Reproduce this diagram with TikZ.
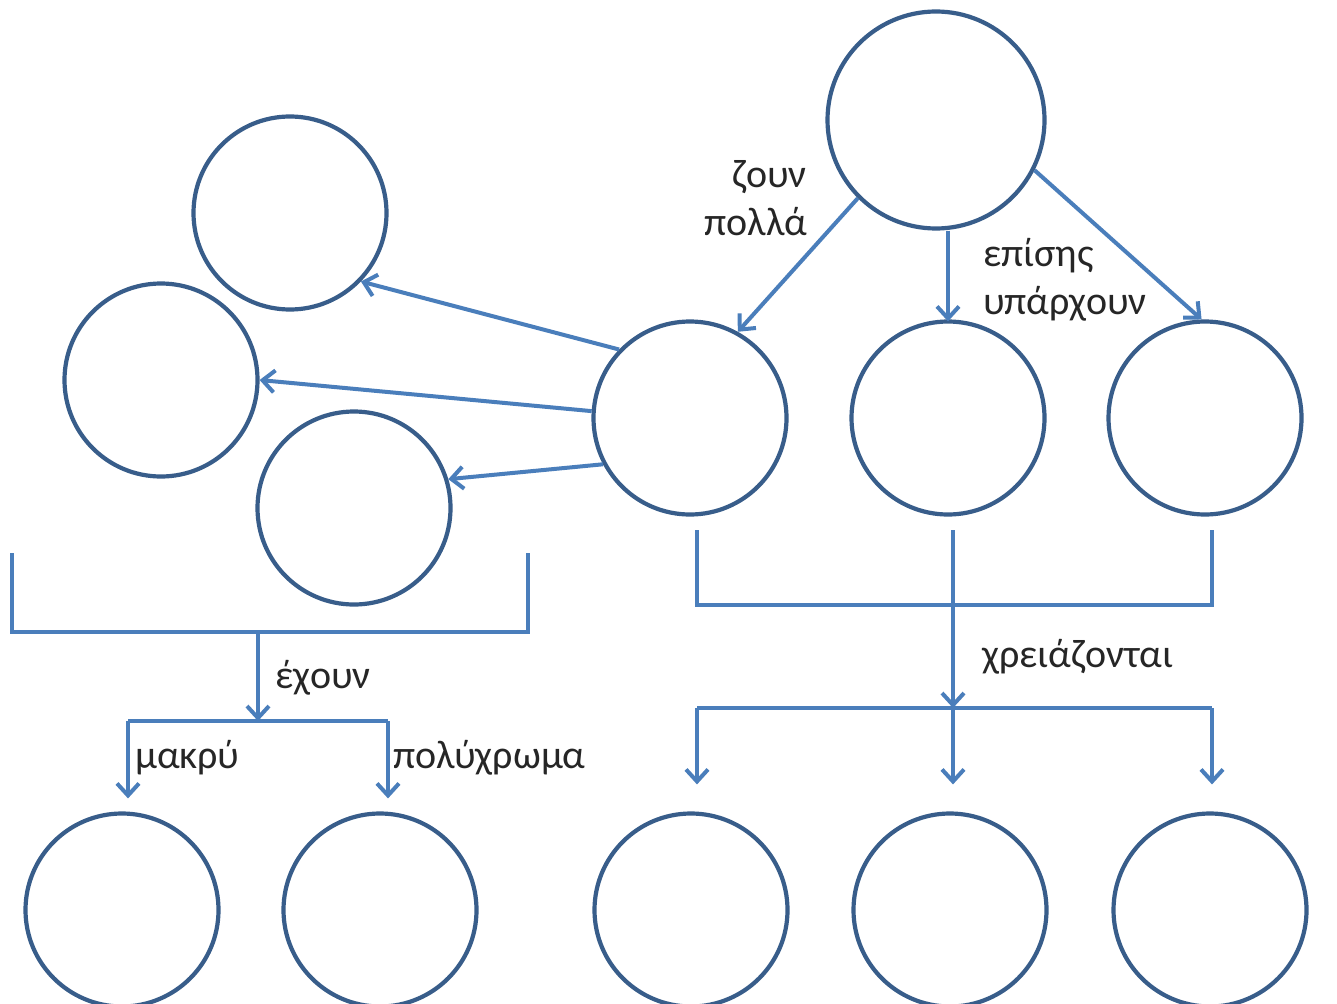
\documentclass[tikz,border=0pt]{standalone}
\usepackage{fontspec}
\setmainfont{Carlito}
\usetikzlibrary{arrows.meta,calc}
\definecolor{ring}{HTML}{385D8A}
\definecolor{conn}{HTML}{4A7EBB}
\definecolor{txt}{HTML}{262626}
\tikzset{
  ring/.style={circle, draw=ring, line width=4.2pt, minimum size=193pt, inner sep=0pt},
  bigring/.style={ring, minimum size=217pt},
  link/.style={draw=conn, line width=4pt},
  arr/.style={link, -{Straight Barb[length=12pt,width=22pt,line width=4pt]}},
  lbl/.style={font=\fontsize{40}{48}\selectfont, text=txt, inner sep=0pt}
}
\begin{document}
\begin{tikzpicture}[x=1pt,y=-1pt]
\useasboundingbox (0,0) rectangle (1337,1003);
\fill[white] (0,0) rectangle (1337,1003);
% circles
\node[bigring] (top) at (936,120) {};
\node[ring] (L1) at (290,213) {};
\node[ring] (L2) at (161,380) {};
\node[ring] (L3) at (354,508) {};
\node[ring] (M) at (690,418) {};
\node[ring] (R2) at (948,418) {};
\node[ring] (R3) at (1205,418) {};
\node[ring] (B1) at (122,910) {};
\node[ring] (B2) at (380,910) {};
\node[ring] (B3) at (691,910) {};
\node[ring] (B4) at (950,910) {};
\node[ring] (B5) at (1210,910) {};
% arrows from top
\draw[arr] (top.225) -- (M.61);
\draw[arr] (R2.north |- top.south) -- ($(R2.north)+(0,2)$);
\draw[arr] (top.-27) -- (R3.92);
% arrows from M to left circles
\draw[arr] (M.136) -- (L1.-44);
\draw[arr] (M.176) -- (L2.0);
\draw[arr] (M.208) -- (L3.17);
% left bracket
\coordinate (la) at (12,553);
\coordinate (lb) at (12,632);
\coordinate (lc) at (528,632);
\coordinate (ld) at (528,553);
\coordinate (lj) at (258,632);
\coordinate (lk) at (258,721);
\coordinate (ll) at (128,721);
\coordinate (lr) at (388,721);
\draw[link] (la) -- (lb) -- (lc) -- (ld);
\draw[arr] (lj) -- (lk);
\draw[link] (ll) -- (lr);
\draw[arr] (ll) -- ($(ll |- B1.north)+(0,-13)$);
\draw[arr] (lr) -- ($(lr |- B2.north)+(0,-13)$);
% right bracket
\coordinate (ra) at (697,530);
\coordinate (rb) at (697,605);
\coordinate (rc) at (1212,605);
\coordinate (rd) at (1212,530);
\coordinate (re) at (953,530);
\coordinate (rf) at (953,708);
\coordinate (rl) at (697,708);
\coordinate (rr) at (1212,708);
\draw[link] (ra) -- (rb) -- (rc) -- (rd);
\draw[arr] (re) -- (rf);
\draw[link] (rl) -- (rr);
\draw[arr] (rl) -- ($(rl |- B3.north)+(0,-27)$);
\draw[arr] (rf) -- ($(rf |- B4.north)+(0,-27)$);
\draw[arr] (rr) -- ($(rr |- B5.north)+(0,-27)$);
% labels
\node[lbl, anchor=base east] (t1) at (807,187) {ζουν};
\node[lbl, anchor=base east] (t2) at (807,235) {πολλά};
\node[lbl, anchor=base west] (t3) at (983,266) {επίσης};
\node[lbl, anchor=base west] (t4) at (983,314) {υπάρχουν};
\node[lbl, anchor=base west] (t5) at (275,688) {έχουν};
\node[lbl, anchor=base west] (t6) at (135,768) {μακρύ};
\node[lbl, anchor=base west] (t7) at (393,768) {πολύχρωμα};
\node[lbl, anchor=base west] (t8) at (982,667) {χρειάζονται};
\end{tikzpicture}
\end{document}
